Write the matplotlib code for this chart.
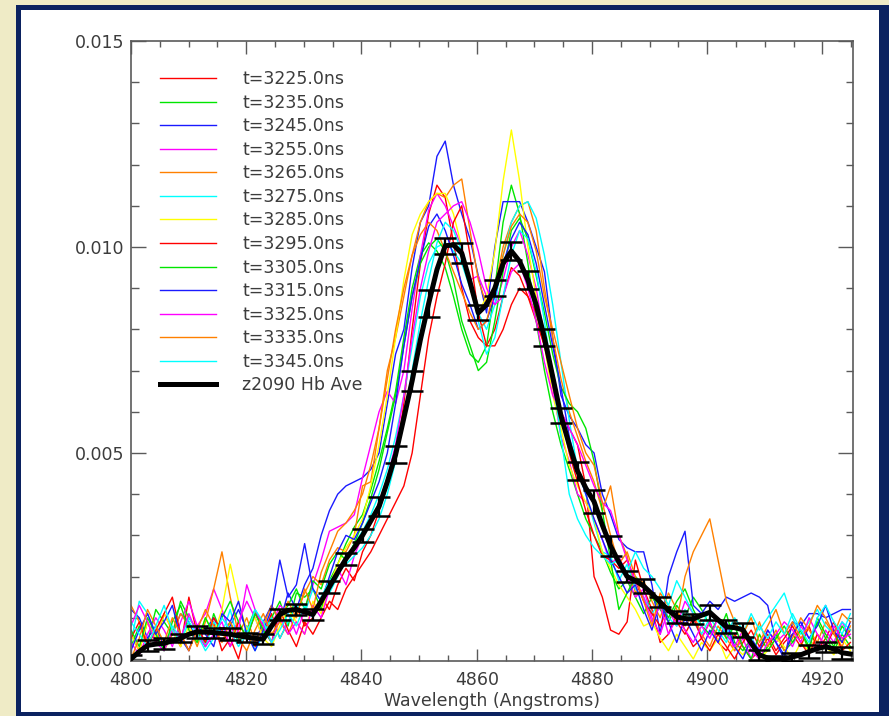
import numpy as np
import matplotlib.pyplot as plt
from matplotlib.patches import Rectangle
from matplotlib.lines import Line2D
from matplotlib.ticker import MultipleLocator

# Individual spectra: one line per time step (values in units of 1e-5)
times = ["3225.0", "3235.0", "3245.0", "3255.0", "3265.0", "3275.0", "3285.0",
         "3295.0", "3305.0", "3315.0", "3325.0", "3335.0", "3345.0"]
colors = ["#ff0000", "#00e600", "#1a1aff", "#ff00ff", "#ff8000", "#00ffff", "#ffff00",
          "#ff0000", "#00e600", "#1a1aff", "#ff00ff", "#ff8000", "#00ffff"]

# wavelength grid of the spectra (Angstroms)
wl_fine = 4800 + 1.435 * np.arange(88)

t3225 = [60, 20, 90, 40, 110, 70, 30, 150, 60, 40,
         90, 20, 50, 0, 80, 30, 60, 110, 50, 90,
         130, 80, 100, 150, 120, 180, 220, 190, 260, 300,
         360, 420, 480, 620, 800, 960, 1080, 1150, 1120, 1010,
         900, 820, 780, 760, 800, 880, 950, 930, 880, 820,
         760, 700, 600, 560, 520, 420, 200, 150, 70, 60,
         90, 240, 170, 120, 40, 60, 110, 70, 30, 50,
         90, 40, 20, 60, 30, 0, 20, 50, 10, 40,
         60, 30, 80, 20, 50, 90, 40, 70]
t3235 = [30, 80, 40, 120, 90, 60, 140, 100, 70, 30,
         110, 60, 90, 40, 70, 120, 60, 100, 140, 80,
         160, 150, 170, 120, 190, 230, 280, 320, 350, 410,
         480, 560, 650, 780, 900, 980, 1010, 990, 950, 880,
         800, 740, 720, 760, 900, 1060, 1150, 1080, 960, 820,
         700, 600, 520, 460, 400, 340, 300, 260, 210, 170,
         190, 150, 110, 150, 120, 90, 130, 100, 150, 120,
         80, 60, 110, 40, 20, 50, 0, 30, 60, 20,
         40, 70, 30, 90, 50, 20, 60, 30]
t3245 = [120, 100, 50, 80, 30, 60, 110, 90, 40, 70,
         100, 60, 80, 120, 70, 40, 90, 130, 90, 160,
         120, 180, 220, 300, 360, 400, 420, 430, 440, 460,
         500, 620, 740, 800, 950, 1060, 1100, 1220, 1257, 1150,
         1080, 1020, 930, 840, 1000, 1110, 1110, 1110, 1060, 1000,
         940, 780, 640, 590, 560, 520, 500, 400, 350, 290,
         270, 260, 260, 180, 60, 200, 260, 310, 130, 110,
         140, 120, 150, 140, 150, 160, 150, 130, 40, 0,
         90, 80, 110, 110, 100, 110, 120, 120]
t3255 = [40, 10, 60, 100, 70, 30, 90, 140, 80, 110,
         170, 120, 60, 90, 140, 100, 50, 80, 130, 110,
         60, 120, 180, 240, 310, 320, 330, 350, 440, 520,
         600, 650, 620, 700, 850, 980, 1090, 1130, 1100, 1050,
         1000, 920, 930, 880, 860, 920, 1000, 1040, 980, 900,
         780, 660, 540, 480, 400, 380, 340, 290, 230, 250,
         200, 150, 170, 100, 60, 120, 80, 140, 110, 50,
         90, 40, 80, 20, 50, 0, 30, 70, 40, 60,
         30, 80, 50, 20, 70, 40, 90, 50]
t3265 = [130, 90, 40, 70, 20, 60, 110, 80, 30, 90,
         170, 260, 150, 60, 100, 40, 80, 130, 90, 60,
         110, 160, 200, 180, 240, 270, 260, 300, 420, 430,
         560, 700, 780, 880, 980, 1060, 1110, 1130, 1120, 1150,
         1165, 1040, 920, 860, 900, 1000, 1060, 1100, 1110, 1040,
         900, 780, 680, 600, 540, 480, 430, 360, 420, 300,
         250, 160, 190, 140, 100, 160, 120, 80, 110, 60,
         30, 80, 50, 20, 60, 40, 90, 30, 70, 20,
         50, 100, 70, 40, 90, 60, 30, 80]
t3275 = [40, 140, 110, 60, 20, 80, 50, 100, 70, 30,
         90, 60, 120, 40, 80, 20, 60, 100, 50, 90,
         130, 110, 170, 140, 160, 200, 240, 280, 310, 350,
         400, 460, 540, 640, 760, 880, 960, 1000, 1010, 990,
         960, 900, 840, 800, 860, 980, 1060, 1100, 1110, 1070,
         980, 860, 720, 580, 460, 400, 330, 260, 250, 190,
         230, 170, 150, 110, 140, 100, 80, 120, 90, 60,
         100, 70, 40, 90, 60, 110, 70, 100, 130, 160,
         100, 60, 90, 120, 80, 60, 90, 70]
t3285 = [60, 20, 90, 50, 110, 70, 30, 80, 40, 100,
         60, 120, 230, 140, 70, 100, 50, 30, 80, 120,
         90, 60, 140, 110, 180, 230, 270, 300, 340, 420,
         520, 640, 780, 920, 1030, 1080, 1110, 1130, 1130, 1080,
         1000, 900, 840, 880, 990, 1160, 1284, 1160, 1000, 880,
         760, 640, 560, 470, 420, 380, 340, 260, 220, 180,
         150, 120, 80, 90, 50, 20, 60, 30, 0, 40,
         20, 50, 0, 30, 10, 40, 0, 20, 50, 30,
         0, 40, 20, 60, 30, 10, 50, 20]
t3295 = [50, 90, 30, 70, 110, 150, 60, 20, 80, 40,
         100, 70, 30, 90, 50, 110, 80, 40, 120, 70,
         30, 90, 60, 100, 140, 120, 170, 200, 230, 260,
         300, 340, 380, 420, 500, 640, 780, 880, 960, 1060,
         1100, 980, 840, 760, 760, 800, 860, 900, 880, 840,
         760, 680, 600, 500, 430, 360, 300, 250, 240, 220,
         240, 190, 140, 110, 80, 130, 90, 60, 100, 50,
         20, 60, 30, 0, 40, 70, 30, 60, 20, 50,
         80, 40, 10, 60, 30, 70, 20, 40]
t3305 = [70, 30, 100, 60, 20, 90, 130, 70, 40, 100,
         60, 100, 140, 90, 50, 110, 70, 40, 100, 130,
         170, 120, 190, 170, 230, 260, 240, 280, 330, 390,
         460, 550, 640, 760, 880, 960, 1000, 1020, 990, 920,
         820, 760, 700, 720, 820, 940, 1040, 1070, 1020, 930,
         840, 740, 660, 620, 600, 560, 480, 360, 240, 120,
         160, 200, 180, 150, 130, 100, 140, 170, 120, 80,
         60, 100, 50, 80, 30, 0, 60, 20, 50, 80,
         40, 70, 20, 100, 60, 30, 80, 50]
t3315 = [20, 70, 110, 60, 90, 130, 50, 20, 80, 60,
         30, 110, 90, 140, 60, 20, 70, 120, 240, 150,
         180, 280, 170, 140, 200, 260, 300, 290, 330, 380,
         430, 500, 620, 760, 880, 970, 1050, 1080, 1040, 980,
         910, 860, 800, 820, 880, 960, 1020, 1060, 1030, 960,
         860, 760, 660, 540, 460, 400, 340, 290, 240, 200,
         160, 180, 120, 70, 140, 90, 40, 100, 60, 20,
         70, 40, 90, 30, 0, 50, 20, 70, 40, 10,
         60, 90, 50, 80, 130, 70, 40, 90]
t3325 = [80, 130, 90, 40, 20, 70, 50, 110, 60, 30,
         60, 90, 30, 70, 180, 120, 80, 40, 100, 60,
         90, 60, 130, 100, 170, 220, 180, 250, 300, 330,
         380, 440, 520, 640, 780, 900, 990, 1060, 1080, 1100,
         1110, 1060, 990, 900, 860, 880, 940, 960, 900, 820,
         720, 640, 600, 560, 520, 470, 420, 380, 360, 300,
         240, 190, 150, 90, 130, 60, 100, 70, 40, 80,
         50, 100, 60, 30, 70, 20, 0, 40, 60, 90,
         70, 40, 100, 60, 30, 80, 50, 60]
t3335 = [0, 50, 120, 80, 40, 100, 60, 20, 70, 120,
         80, 40, 90, 50, 20, 70, 110, 60, 90, 140,
         100, 170, 120, 210, 260, 310, 330, 360, 400, 470,
         560, 680, 800, 900, 980, 1030, 1060, 1040, 990, 940,
         890, 840, 800, 820, 900, 980, 1050, 1080, 1060, 990,
         880, 800, 720, 640, 560, 500, 470, 380, 300, 230,
         260, 200, 140, 80, 160, 130, 90, 200, 260, 300,
         340, 240, 140, 90, 60, 100, 40, 80, 120, 60,
         90, 50, 80, 130, 100, 60, 110, 90]
t3345 = [90, 60, 30, 80, 130, 70, 40, 90, 60, 20,
         50, 100, 70, 30, 60, 120, 90, 40, 70, 110,
         80, 130, 100, 150, 190, 210, 230, 250, 270, 300,
         340, 400, 480, 580, 700, 820, 920, 1010, 1060, 1040,
         990, 920, 820, 740, 780, 880, 980, 1040, 1020, 940,
         820, 680, 540, 400, 340, 300, 270, 250, 230, 240,
         210, 260, 220, 200, 170, 130, 190, 150, 110, 80,
         120, 90, 60, 100, 70, 40, 80, 50, 90, 60,
         110, 70, 40, 100, 130, 90, 60, 110]

spectra = [t3225, t3235, t3245, t3255, t3265, t3275, t3285,
           t3295, t3305, t3315, t3325, t3335, t3345]

# Averaged profile (same grid, units of 1e-5); error bars on every second sample
avg = [0, 18, 33, 36, 38, 44, 50, 60, 66, 65,
       64, 62, 60, 56, 53, 50, 48, 80, 108, 118,
       120, 114, 108, 140, 175, 210, 243, 270, 300, 335,
       370, 430, 496, 585, 675, 775, 863, 945, 1003, 1005,
       985, 915, 840, 860, 900, 960, 990, 965, 920, 860,
       780, 685, 590, 520, 456, 415, 382, 325, 274, 235,
       200, 190, 177, 158, 138, 118, 102, 98, 97, 106,
       113, 95, 78, 76, 71, 38, 10, 2, 0, 0,
       5, 10, 18, 25, 30, 24, 15, 12]
avg_err = [10, 14, 13, 10, 15, 12, 14, 11, 12, 14,
           13, 14, 15, 15, 16, 23, 20, 25, 32, 20,
           25, 18, 20, 22, 22, 20, 18, 22, 27, 25,
           14, 18, 12, 15, 13, 18, 16, 17, 12, 8,
           10, 15, 12, 14]

scale = 1e-5
text_color = "#3c3c3c"
axis_color = "#5a5a5a"
fs = 12.5

fig = plt.figure(figsize=(8.89, 7.16), dpi=100, facecolor="#efebc6")
# navy frame and white panel behind the plot
fig.add_artist(Rectangle((0.018, 0.0), 0.982, 0.993, transform=fig.transFigure,
                         facecolor="#0b2260", edgecolor="none", zorder=-2))
fig.add_artist(Rectangle((0.0236, 0.0056), 0.965, 0.9804, transform=fig.transFigure,
                         facecolor="white", edgecolor="none", zorder=-1))

ax = fig.add_axes([131 / 889, 55 / 716, 722 / 889, 620 / 716])
ax.set_facecolor("none")

handles = []
for t, c, s in zip(times, colors, spectra):
    ln, = ax.plot(wl_fine, np.array(s) * scale, color=c, lw=1.0)
    handles.append(ln)

avg_y = np.array(avg) * scale
ax.plot(wl_fine, avg_y, color="black", lw=3.6, zorder=5)
ax.errorbar(wl_fine[::2], avg_y[::2], yerr=np.array(avg_err) * scale, fmt="none",
            ecolor="black", elinewidth=1.6, capsize=8, capthick=1.8, zorder=5)
# plain thick line in the legend for the average
handles.append(Line2D([], [], color="black", lw=3.6))
labels = ["t=" + t + "ns" for t in times] + ["z2090 Hb Ave"]

ax.set_xlim(4800, 4925.3)
ax.set_ylim(-0.00005, 0.015)
ax.xaxis.set_major_locator(MultipleLocator(20))
ax.xaxis.set_minor_locator(MultipleLocator(5))
ax.yaxis.set_major_locator(MultipleLocator(0.005))
ax.yaxis.set_minor_locator(MultipleLocator(0.001))
ax.yaxis.set_major_formatter(plt.FuncFormatter(lambda v, p: "%.3f" % v))

ax.tick_params(axis="both", which="both", direction="in", top=True, right=True,
               color=axis_color, labelcolor=text_color, labelsize=fs, width=1)
ax.tick_params(axis="x", which="major", length=9, pad=7)
ax.tick_params(axis="x", which="minor", length=4.5)
ax.tick_params(axis="y", which="major", length=10.8, pad=5)
ax.tick_params(axis="y", which="minor", length=5.4)
for sp in ax.spines.values():
    sp.set_color(axis_color)
    sp.set_linewidth(1.2)

ax.set_xlabel("Wavelength (Angstroms)", fontsize=fs, color=text_color, labelpad=2)

leg = ax.legend(handles, labels, loc="upper left", bbox_to_anchor=(29 / 722, 0.953),
                frameon=False, fontsize=fs, handlelength=3.2, handletextpad=1.55,
                labelspacing=0.32, borderpad=0, borderaxespad=0)
for txt in leg.get_texts():
    txt.set_color(text_color)

fig.savefig("out.png", dpi=100, facecolor=fig.get_facecolor())
